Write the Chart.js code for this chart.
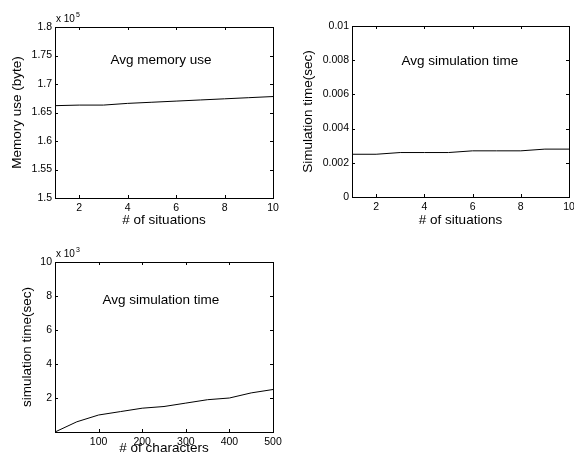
<!DOCTYPE html>
<html>
<head>
<meta charset="utf-8">
<script src="https://cdn.jsdelivr.net/npm/chart.js@4/dist/chart.umd.min.js"></script>
<style>
  html, body { margin: 0; padding: 0; background: #fff; }
  #wrap { position: relative; width: 574px; height: 464px; overflow: hidden; }
  canvas { position: absolute; }
</style>
</head>
<body>
<div id="wrap">
  <canvas id="memChart" width="290" height="240" style="left:0px;top:0px"></canvas>
  <canvas id="timeChart" width="284" height="240" style="left:290px;top:0px"></canvas>
  <canvas id="charChart" width="290" height="224" style="left:0px;top:240px"></canvas>
</div>
<script>
// data
var situations = [1, 2, 3, 4, 5, 6, 7, 8, 9, 10];
var memoryUse = [1.662, 1.663, 1.663, 1.666, 1.668, 1.670, 1.672, 1.674, 1.676, 1.678]; // x 10^5 byte
var simTime = [0.0025, 0.0025, 0.0026, 0.0026, 0.0026, 0.0027, 0.0027, 0.0027, 0.0028, 0.0028];
var characters = [0, 50, 100, 150, 200, 250, 300, 350, 400, 450, 500];
var charTime = [0, 0.6, 1.0, 1.2, 1.4, 1.5, 1.7, 1.9, 2.0, 2.3, 2.5]; // x 10^3

// tick labels
var situationTicks = [2, 4, 6, 8, 10];
var memTicks = [1.5, 1.55, 1.6, 1.65, 1.7, 1.75, 1.8];
var timeTicks = [0, 0.002, 0.004, 0.006, 0.008, 0.01];
var charTicks = [100, 200, 300, 400, 500];
var charTimeTicks = [2, 4, 6, 8, 10];

var FONT = "'Liberation Sans', Arial, Helvetica, sans-serif";
Chart.defaults.font.family = FONT;
Chart.defaults.color = '#000';

function fmt(v) { return String(+v.toFixed(4)); }

// matlab-ish box with inward ticks, plus the text inside
var framePlugin = {
  id: 'frame',
  afterDraw: function(chart, args, opts) {
    var ctx = chart.ctx, a = chart.chartArea, sx = chart.scales.x, sy = chart.scales.y;
    var tl = 3;
    ctx.save();
    ctx.strokeStyle = '#000';
    ctx.lineWidth = 1;
    ctx.strokeRect(Math.round(a.left) + 0.5, Math.round(a.top) + 0.5,
      Math.round(a.right - a.left), Math.round(a.bottom - a.top));
    ctx.beginPath();
    sx.ticks.forEach(function(t) {
      var px = Math.round(sx.getPixelForValue(t.value)) + 0.5;
      ctx.moveTo(px, a.bottom); ctx.lineTo(px, a.bottom - tl);
      ctx.moveTo(px, a.top); ctx.lineTo(px, a.top + tl);
    });
    sy.ticks.forEach(function(t) {
      var py = Math.round(sy.getPixelForValue(t.value)) + 0.5;
      ctx.moveTo(a.left, py); ctx.lineTo(a.left + tl, py);
      ctx.moveTo(a.right, py); ctx.lineTo(a.right - tl, py);
    });
    ctx.stroke();

    ctx.fillStyle = '#000';
    ctx.textAlign = 'center';
    ctx.textBaseline = 'middle';
    ctx.font = '13.5px ' + FONT;
    ctx.fillText(opts.label, sx.getPixelForValue(opts.at[0]), sy.getPixelForValue(opts.at[1]));

    if (opts.exponent) {
      ctx.textAlign = 'left';
      ctx.textBaseline = 'alphabetic';
      ctx.font = '10px ' + FONT;
      var x0 = a.left + 1, y0 = a.top - 5;
      ctx.fillText('x 10', x0, y0);
      var w = ctx.measureText('x 10').width;
      ctx.font = '7px ' + FONT;
      ctx.fillText(opts.exponent, x0 + w + 1, y0 - 5);
    }
    ctx.restore();
  }
};

function fixTicks(list) {
  return function(scale) { scale.ticks = list.map(function(v) { return {value: v}; }); };
}

function makeChart(id, cfg) {
  var pts = cfg.xs.map(function(x, i) { return {x: x, y: cfg.ys[i]}; });
  return new Chart(document.getElementById(id), {
    type: 'line',
    data: {
      datasets: [{
        data: pts,
        borderColor: '#000',
        borderWidth: 1,
        pointRadius: 0,
        tension: 0,
        fill: false
      }]
    },
    options: {
      responsive: false,
      animation: false,
      events: [],
      layout: { padding: cfg.pad },
      plugins: {
        legend: { display: false },
        tooltip: { enabled: false },
        frame: cfg.frame
      },
      scales: {
        x: {
          type: 'linear',
          min: cfg.xRange[0], max: cfg.xRange[1],
          afterBuildTicks: fixTicks(cfg.xTicks),
          afterFit: function(s) { s.height = cfg.xH; s.paddingLeft = 0; s.paddingRight = 0; },
          grid: { display: false, drawTicks: false },
          border: { display: false },
          ticks: { font: { size: 10.5 }, padding: 4, maxRotation: 0, autoSkip: false, callback: fmt },
          title: { display: true, text: cfg.xTitle, font: { size: 13.5 }, padding: { top: 0, bottom: cfg.xTitlePad } }
        },
        y: {
          min: cfg.yRange[0], max: cfg.yRange[1],
          afterBuildTicks: fixTicks(cfg.yTicks),
          afterFit: function(s) { s.width = cfg.yW; s.paddingTop = 0; s.paddingBottom = 0; },
          grid: { display: false, drawTicks: false },
          border: { display: false },
          ticks: { font: { size: 10.5 }, padding: 3, autoSkip: false, callback: fmt },
          title: { display: true, text: cfg.yTitle, font: { size: 13.5 }, padding: { top: cfg.yTitlePad, bottom: 0 } }
        }
      }
    },
    plugins: [framePlugin]
  });
}

makeChart('memChart', {
  xs: situations, ys: memoryUse,
  xRange: [1, 10], yRange: [1.5, 1.8],
  xTicks: situationTicks, yTicks: memTicks,
  xTitle: '# of situations', yTitle: 'Memory use (byte)',
  pad: { top: 27, right: 17, left: 0, bottom: 0 },
  xH: 42, yW: 55, xTitlePad: 12, yTitlePad: 9.5,
  frame: { label: 'Avg memory use', at: [5.38, 1.742], exponent: '5' }
});

makeChart('timeChart', {
  xs: situations, ys: simTime,
  xRange: [1, 10], yRange: [0, 0.01],
  xTicks: situationTicks, yTicks: timeTicks,
  xTitle: '# of situations', yTitle: 'Simulation time(sec)',
  pad: { top: 26, right: 5, left: 0, bottom: 0 },
  xH: 43, yW: 62, xTitlePad: 12, yTitlePad: 10.5,
  frame: { label: 'Avg simulation time', at: [5.47, 0.00794] }
});

makeChart('charChart', {
  xs: characters, ys: charTime,
  xRange: [0, 500], yRange: [0, 10],
  xTicks: charTicks, yTicks: charTimeTicks,
  xTitle: '# of characters', yTitle: 'simulation time(sec)',
  pad: { top: 22, right: 17, left: 0, bottom: 0 },
  xH: 32, yW: 55, xTitlePad: 8, yTitlePad: 19.5,
  frame: { label: 'Avg simulation time', at: [243, 7.75], exponent: '3' }
});
</script>
</body>
</html>
